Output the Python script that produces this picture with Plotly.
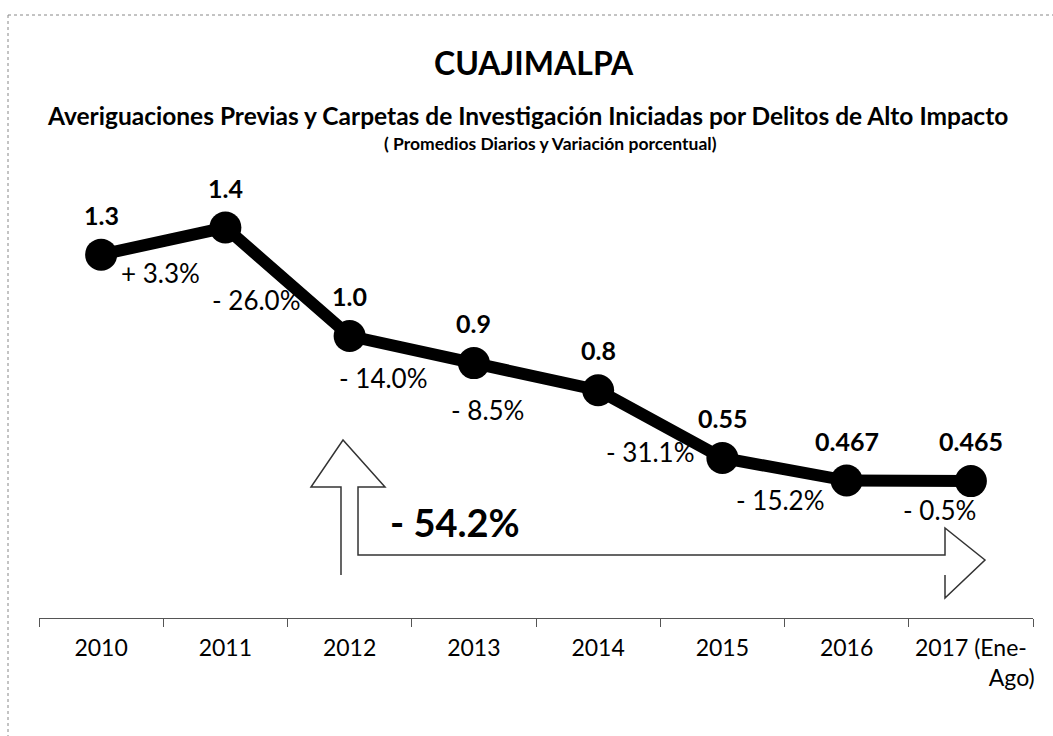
import plotly.graph_objects as go

# Daily averages of high-impact crime reports, Cuajimalpa
years = ["2010", "2011", "2012", "2013", "2014", "2015", "2016",
         "2017 (Ene-<br>" + "\u00a0" * 14 + "Ago)"]
daily_avg = [1.3, 1.4, 1.0, 0.9, 0.8, 0.55, 0.467, 0.465]
value_labels = ["1.3", "1.4", "1.0", "0.9", "0.8", "0.55", "0.467", "0.465"]
pct_change = ["+ 3.3%", "- 26.0%", "- 14.0%", "- 8.5%", "- 31.1%", "- 15.2%", "- 0.5%"]
total_change = "- 54.2%"

FONT = "Lato"
W, H = 1053, 736
ML, MR, MT, MB = 39, 20, 150, 118
PW, PH = W - ML - MR, H - MT - MB


def px(x):
    return (x - ML) / PW


def py(y):
    return (H - MB - y) / PH


fig = go.Figure()
fig.add_trace(go.Scatter(
    x=years, y=daily_avg, mode="lines+markers",
    line=dict(color="black", width=12),
    marker=dict(color="black", size=32),
    hoverinfo="skip", showlegend=False,
))

ann = []
# value labels above each point
for i, (v, t) in enumerate(zip(daily_avg, value_labels)):
    ann.append(dict(x=i, y=v, xref="x", yref="y", text=f"<b>{t}</b>", showarrow=False,
                    yshift=40, font=dict(family=FONT, size=25, color="black")))

# year-over-year change labels beside each segment
pct_shift = [(-3, -32), (-31, -18), (-28, -28), (-49, -33), (-10, -28), (-4, -31), (31, -29)]
for i, t in enumerate(pct_change):
    ann.append(dict(x=i + 0.5, y=(daily_avg[i] + daily_avg[i + 1]) / 2, xref="x", yref="y",
                    text=t, showarrow=False, xshift=pct_shift[i][0], yshift=pct_shift[i][1],
                    font=dict(family=FONT, size=26, color="black")))


def page_text(x, y, text, size):
    return dict(x=px(x), y=py(y), xref="paper", yref="paper", text=text, showarrow=False,
                xanchor="center", yanchor="middle",
                font=dict(family=FONT, size=size, color="black"))


# titles
ann.append(page_text(534, 62, "<b>CUAJIMALPA</b>", 32))
ann.append(page_text(527, 115, "<b>Averiguaciones Previas y Carpetas de Investigación "
                               "Iniciadas por Delitos de Alto Impacto</b>", 24.5))
ann.append(page_text(550, 143, "<b>( Promedios Diarios y Variación porcentual)</b>", 17.5))
# overall change
ann.append(page_text(455, 522, f"<b>{total_change}</b>", 38))

# bent outline arrow spanning the period
pts = [(341, 575), (341, 487), (311, 487), (343, 440), (385, 487), (358, 487), (358, 555),
       (945, 555), (945, 528), (985, 560), (945, 598), (945, 575)]
path = "M " + " L ".join(f"{px(a):.5f},{py(b):.5f}" for a, b in pts)
shapes = [
    dict(type="path", xref="paper", yref="paper", path=path,
         line=dict(color="#333333", width=1.5)),
    # page frame
    dict(type="line", xref="paper", yref="paper", x0=px(8), x1=px(1053), y0=py(15), y1=py(15),
         line=dict(color="#888888", width=1, dash="dot")),
    dict(type="line", xref="paper", yref="paper", x0=px(8), x1=px(8), y0=py(15), y1=py(736),
         line=dict(color="#888888", width=1, dash="dot")),
]

fig.update_layout(
    width=W, height=H,
    margin=dict(l=ML, r=MR, t=MT, b=MB),
    paper_bgcolor="white", plot_bgcolor="white",
    annotations=ann, shapes=shapes,
    xaxis=dict(type="category", range=[-0.5, 7.5], showgrid=False, zeroline=False,
               showline=True, linecolor="#555555", linewidth=1,
               ticks="outside", tickson="boundaries", ticklen=8, tickcolor="#555555",
               ticklabelstandoff=9, tickangle=0, automargin=False,
               tickfont=dict(family=FONT, size=23, color="black")),
    yaxis=dict(range=[-0.04, 1.686], visible=False, automargin=False),
)

fig.write_html("out.html")
